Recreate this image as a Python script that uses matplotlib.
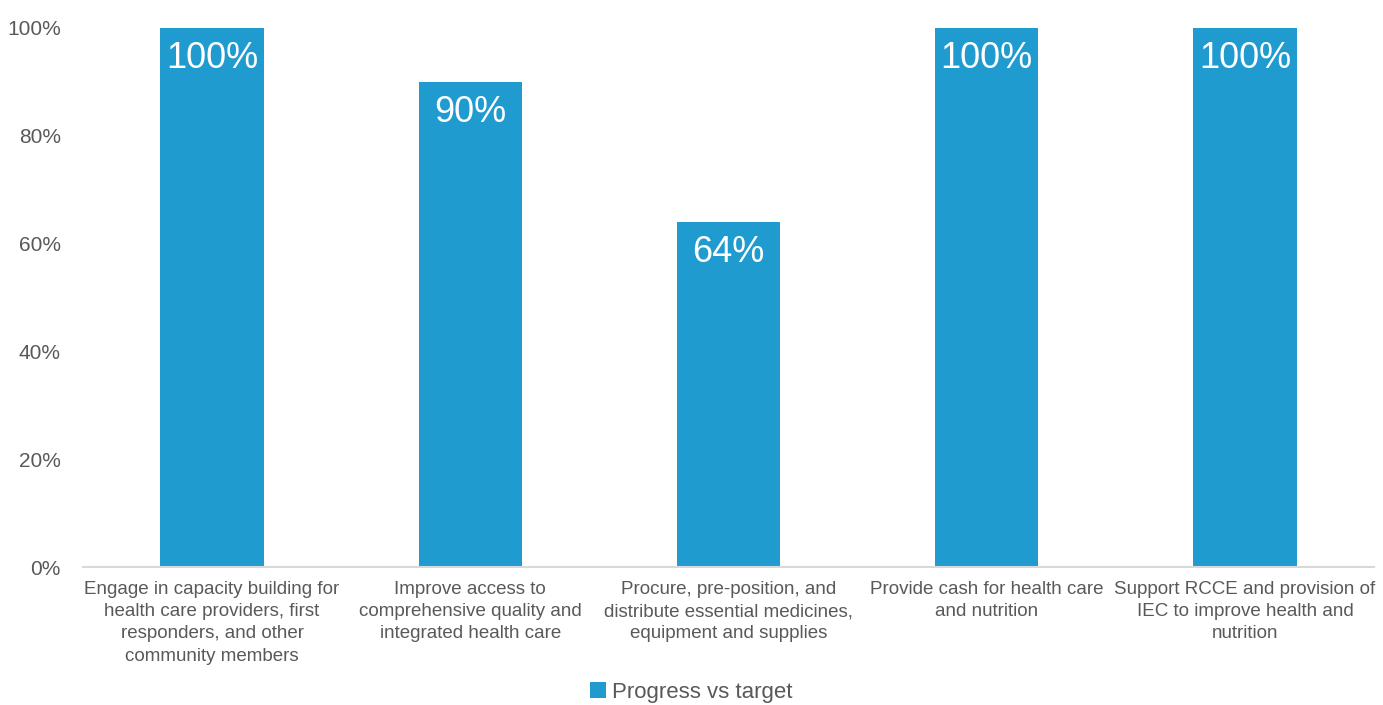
import matplotlib.pyplot as plt
from matplotlib.ticker import FuncFormatter

categories = [
    "Engage in capacity building for\nhealth care providers, first\nresponders, and other\ncommunity members",
    "Improve access to\ncomprehensive quality and\nintegrated health care",
    "Procure, pre-position, and\ndistribute essential medicines,\nequipment and supplies",
    "Provide cash for health care\nand nutrition",
    "Support RCCE and provision of\nIEC to improve health and\nnutrition",
]
progress = [100, 90, 64, 100, 100]
series_name = "Progress vs target"

BAR_COLOR = "#209BD0"
TEXT_COLOR = "#595959"

plt.rcParams["font.family"] = ["Liberation Sans", "DejaVu Sans"]

fig = plt.figure(figsize=(13.83, 7.05), dpi=100)
ax = fig.add_axes([0.060, 0.1957, 0.9335, 0.7646])

x = list(range(len(categories)))
bars = ax.bar(x, progress, width=0.4, color=BAR_COLOR, label=series_name, zorder=2)

for rect, val in zip(bars, progress):
    ax.annotate(f"{val}%", (rect.get_x() + rect.get_width() / 2, rect.get_height()),
                xytext=(0, -22), textcoords="offset points", ha="center", va="center",
                color="white", fontsize=26)

ax.set_xlim(-0.5, len(categories) - 0.5)
ax.set_ylim(0, 100)
ax.set_yticks(range(0, 101, 20))
ax.yaxis.set_major_formatter(FuncFormatter(lambda v, _: f"{v:.0f}%"))
ax.set_xticks(x)
ax.set_xticklabels(categories, fontsize=13.5, color=TEXT_COLOR, linespacing=1.4)

for side in ["top", "right", "left"]:
    ax.spines[side].set_visible(False)
ax.spines["bottom"].set_color("#D9D9D9")
ax.spines["bottom"].set_linewidth(1.5)
ax.tick_params(axis="both", length=0)
ax.tick_params(axis="y", labelsize=15, labelcolor=TEXT_COLOR, pad=16)
ax.tick_params(axis="x", pad=10)

fig.legend(handles=[bars], labels=[series_name], loc="lower center", bbox_to_anchor=(0.5, -0.025),
           frameon=False, fontsize=16, labelcolor=TEXT_COLOR, handlelength=0.7, handleheight=0.7,
           handletextpad=0.3)

fig.savefig("out.png", dpi=100)
